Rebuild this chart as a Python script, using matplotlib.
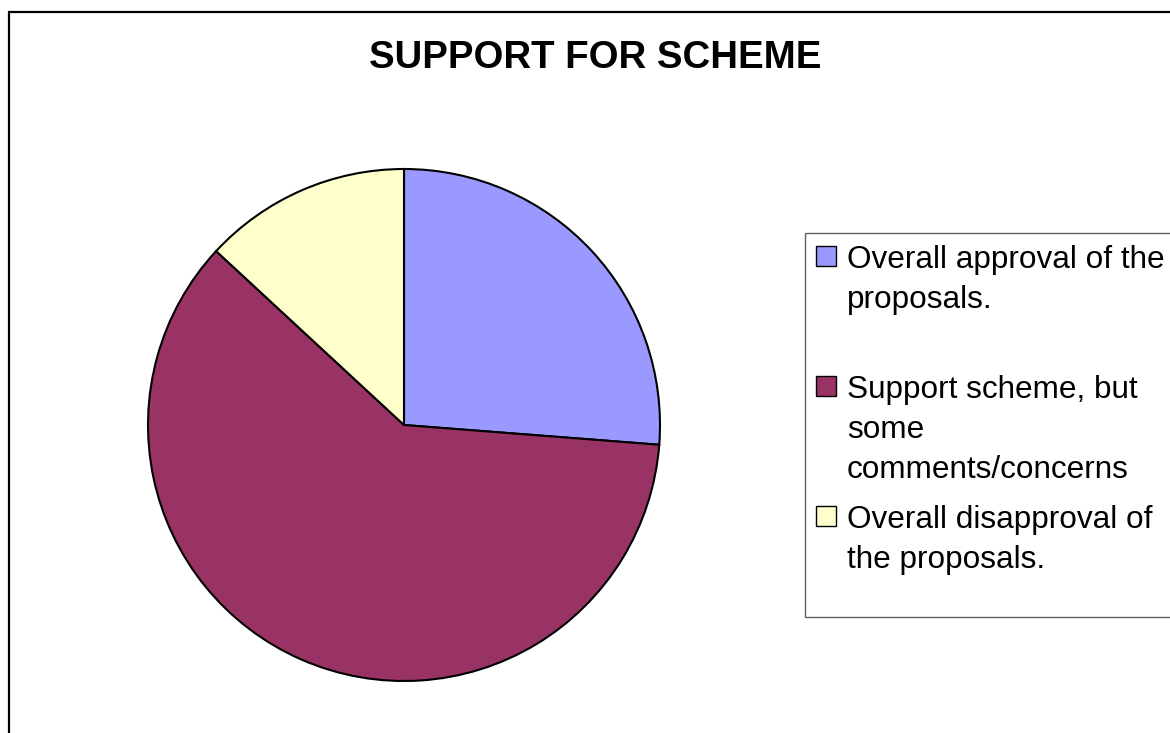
import matplotlib.pyplot as plt
from matplotlib.patches import Rectangle

plt.rcParams['font.family'] = ['Liberation Sans', 'DejaVu Sans']

# survey responses
labels = ['Overall approval of the\nproposals.',
          'Support scheme, but\nsome\ncomments/concerns',
          'Overall disapproval of\nthe proposals.']
counts = [16, 37, 8]
colors = ['#9999FF', '#993366', '#FFFFCC']

W, H = 1170, 733
fig = plt.figure(figsize=(W / 100., H / 100.), dpi=100)

def fx(px):
    return px / W

def fy(py):
    return 1 - py / H

# outer chart border (right and bottom run off the picture)
fig.add_artist(Rectangle((fx(9), fy(800)), fx(1300), 800 / H - 12.5 / H,
                         transform=fig.transFigure, fill=False,
                         edgecolor='k', linewidth=1.6))

ax = fig.add_axes([fx(148), fy(681), fx(512), 512 / H])
ax.pie(counts, colors=colors, startangle=90, counterclock=False,
       wedgeprops=dict(edgecolor='k', linewidth=1.5))
ax.set_xlim(-1, 1)
ax.set_ylim(-1, 1)
ax.set_aspect('equal')
ax.axis('off')

fig.text(fx(595), fy(68), 'SUPPORT FOR SCHEME', ha='center', va='baseline',
         fontsize=27.6, weight='bold')

# legend box, drawn by hand to keep Excel's fixed entry pitch
fig.add_artist(Rectangle((fx(805), fy(617)), fx(500), (617 - 233) / H,
                         transform=fig.transFigure, fill=False,
                         edgecolor='#606060', linewidth=1.0))
base0, pitch, lh = 268, 130, 40
for i, (lab, c) in enumerate(zip(labels, colors)):
    b = base0 + i * pitch
    fig.add_artist(Rectangle((fx(816), fy(b - 2)), fx(20), 20 / H,
                             transform=fig.transFigure, facecolor=c,
                             edgecolor='k', linewidth=1.0))
    for j, line in enumerate(lab.split('\n')):
        fig.text(fx(847), fy(b + j * lh), line, ha='left', va='baseline',
                 fontsize=22.7)

fig.savefig('out.png', dpi=100)
